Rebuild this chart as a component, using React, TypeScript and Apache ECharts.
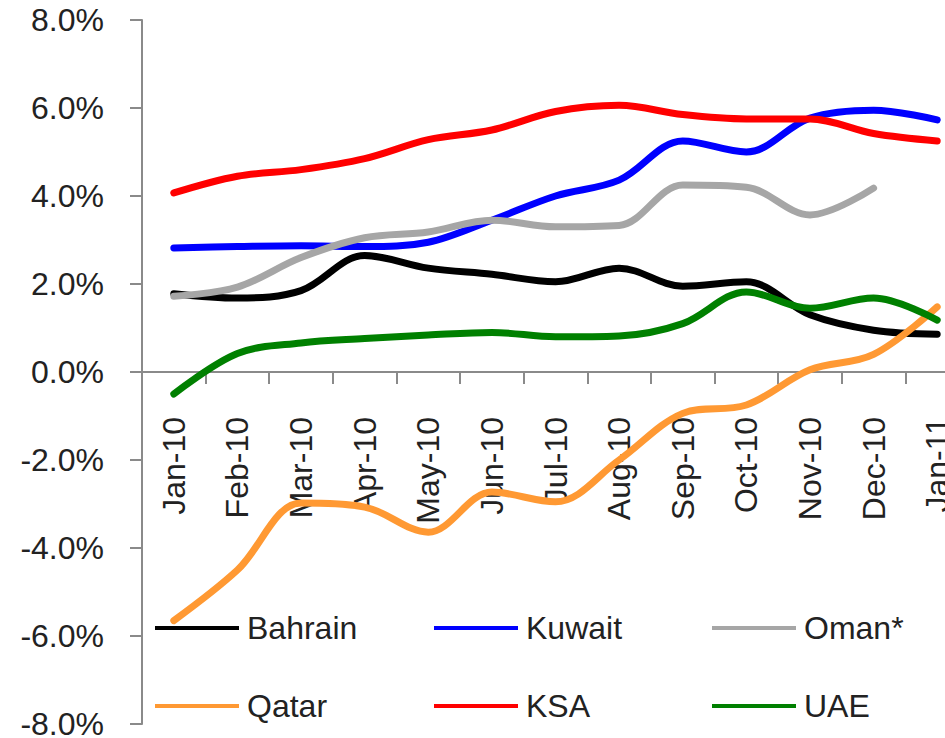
import React, { useEffect, useRef } from "react";
import * as echarts from "echarts";

const categories = ["Jan-10", "Feb-10", "Mar-10", "Apr-10", "May-10", "Jun-10", "Jul-10", "Aug-10", "Sep-10", "Oct-10", "Nov-10", "Dec-10", "Jan-11"];
const bahrain = [1.78, 1.68, 1.85, 2.65, 2.36, 2.22, 2.05, 2.36, 1.95, 2.05, 1.3, 0.95, 0.86];
const kuwait = [2.82, 2.85, 2.87, 2.85, 2.95, 3.45, 4.0, 4.36, 5.25, 5.0, 5.77, 5.95, 5.73];
const oman = [1.72, 1.93, 2.6, 3.05, 3.18, 3.45, 3.3, 3.33, 4.25, 4.2, 3.57, 4.18, null];
const qatar = [-5.65, -4.5, -2.98, -3.07, -3.64, -2.73, -2.95, -2.0, -0.94, -0.75, 0.05, 0.4, 1.48];
const ksa = [4.07, 4.45, 4.6, 4.85, 5.28, 5.5, 5.92, 6.06, 5.85, 5.75, 5.75, 5.42, 5.25];
const uae = [-0.5, 0.42, 0.66, 0.76, 0.84, 0.9, 0.8, 0.82, 1.1, 1.82, 1.45, 1.68, 1.18];
const yTicks = { min: -8, max: 8, interval: 2 };

const seriesDefs = [
  { name: "Bahrain", data: bahrain, color: "#000000" },
  { name: "Kuwait", data: kuwait, color: "#0000FF" },
  { name: "Oman*", data: oman, color: "#A6A6A6" },
  { name: "Qatar", data: qatar, color: "#FF9933" },
  { name: "KSA", data: ksa, color: "#FF0000" },
  { name: "UAE", data: uae, color: "#008000" },
];

const legendPos = [
  { left: 155, top: 612 },
  { left: 434, top: 612 },
  { left: 712, top: 612 },
  { left: 155, top: 690 },
  { left: 434, top: 690 },
  { left: 712, top: 690 },
];

const FONT = "'Liberation Sans', Arial, sans-serif";
const TXT = "#222";
const FS = 32;
const GRID_TOP = 20;
const GRID_BOTTOM = 14;
const H = 738;

export default function App() {
  const ref = useRef<HTMLDivElement>(null);
  useEffect(() => {
    if (!ref.current) return;
    const chart = echarts.init(ref.current, null, { renderer: "svg" });
    const plotH = H - GRID_TOP - GRID_BOTTOM;
    const zeroOffset = -plotH * (0 - yTicks.min) / (yTicks.max - yTicks.min);
    chart.setOption({
      animation: false,
      backgroundColor: "#ffffff",
      grid: { left: 142, top: GRID_TOP, right: -24, bottom: GRID_BOTTOM, containLabel: false, outerBoundsMode: "none" },
      legend: seriesDefs.map((s, i) => ({
        data: [{ name: s.name, icon: "rect", itemStyle: { color: s.color } }],
        left: legendPos[i].left,
        top: legendPos[i].top,
        padding: 0,
        itemWidth: 84,
        itemHeight: 4,
        itemGap: 0,
        textStyle: { fontFamily: FONT, fontSize: FS, color: TXT, lineHeight: 32, padding: [0, 0, 0, 3] },
      })),
      xAxis: {
        type: "category",
        data: categories,
        boundaryGap: true,
        position: "bottom",
        offset: zeroOffset,
        axisLine: { onZero: false, lineStyle: { color: "#8a8a8a", width: 2 } },
        axisTick: { show: true, length: 12, lineStyle: { color: "#8a8a8a", width: 2 } },
        axisLabel: { rotate: 90, margin: 45, fontFamily: FONT, fontSize: FS, color: TXT, hideOverlap: false },
        splitLine: { show: false },
      },
      yAxis: {
        type: "value",
        min: yTicks.min,
        max: yTicks.max,
        interval: yTicks.interval,
        axisLine: { show: true, onZero: false, lineStyle: { color: "#8a8a8a", width: 2 } },
        axisTick: { show: true, length: 12, lineStyle: { color: "#8a8a8a", width: 2 } },
        axisLabel: { margin: 38, fontFamily: FONT, fontSize: FS, color: TXT, formatter: (v: number) => v.toFixed(1) + "%" },
        splitLine: { show: false },
      },
      series: seriesDefs.map((s) => ({
        name: s.name,
        type: "line",
        data: s.data,
        smooth: 0.35,
        symbol: "none",
        connectNulls: false,
        color: s.color,
        lineStyle: { color: s.color, width: 7, cap: "round" },
      })),
    });
    return () => chart.dispose();
  }, []);
  return <div ref={ref} style={{ position: "fixed", left: 0, top: 0, width: 945, height: 738 }} />;
}
